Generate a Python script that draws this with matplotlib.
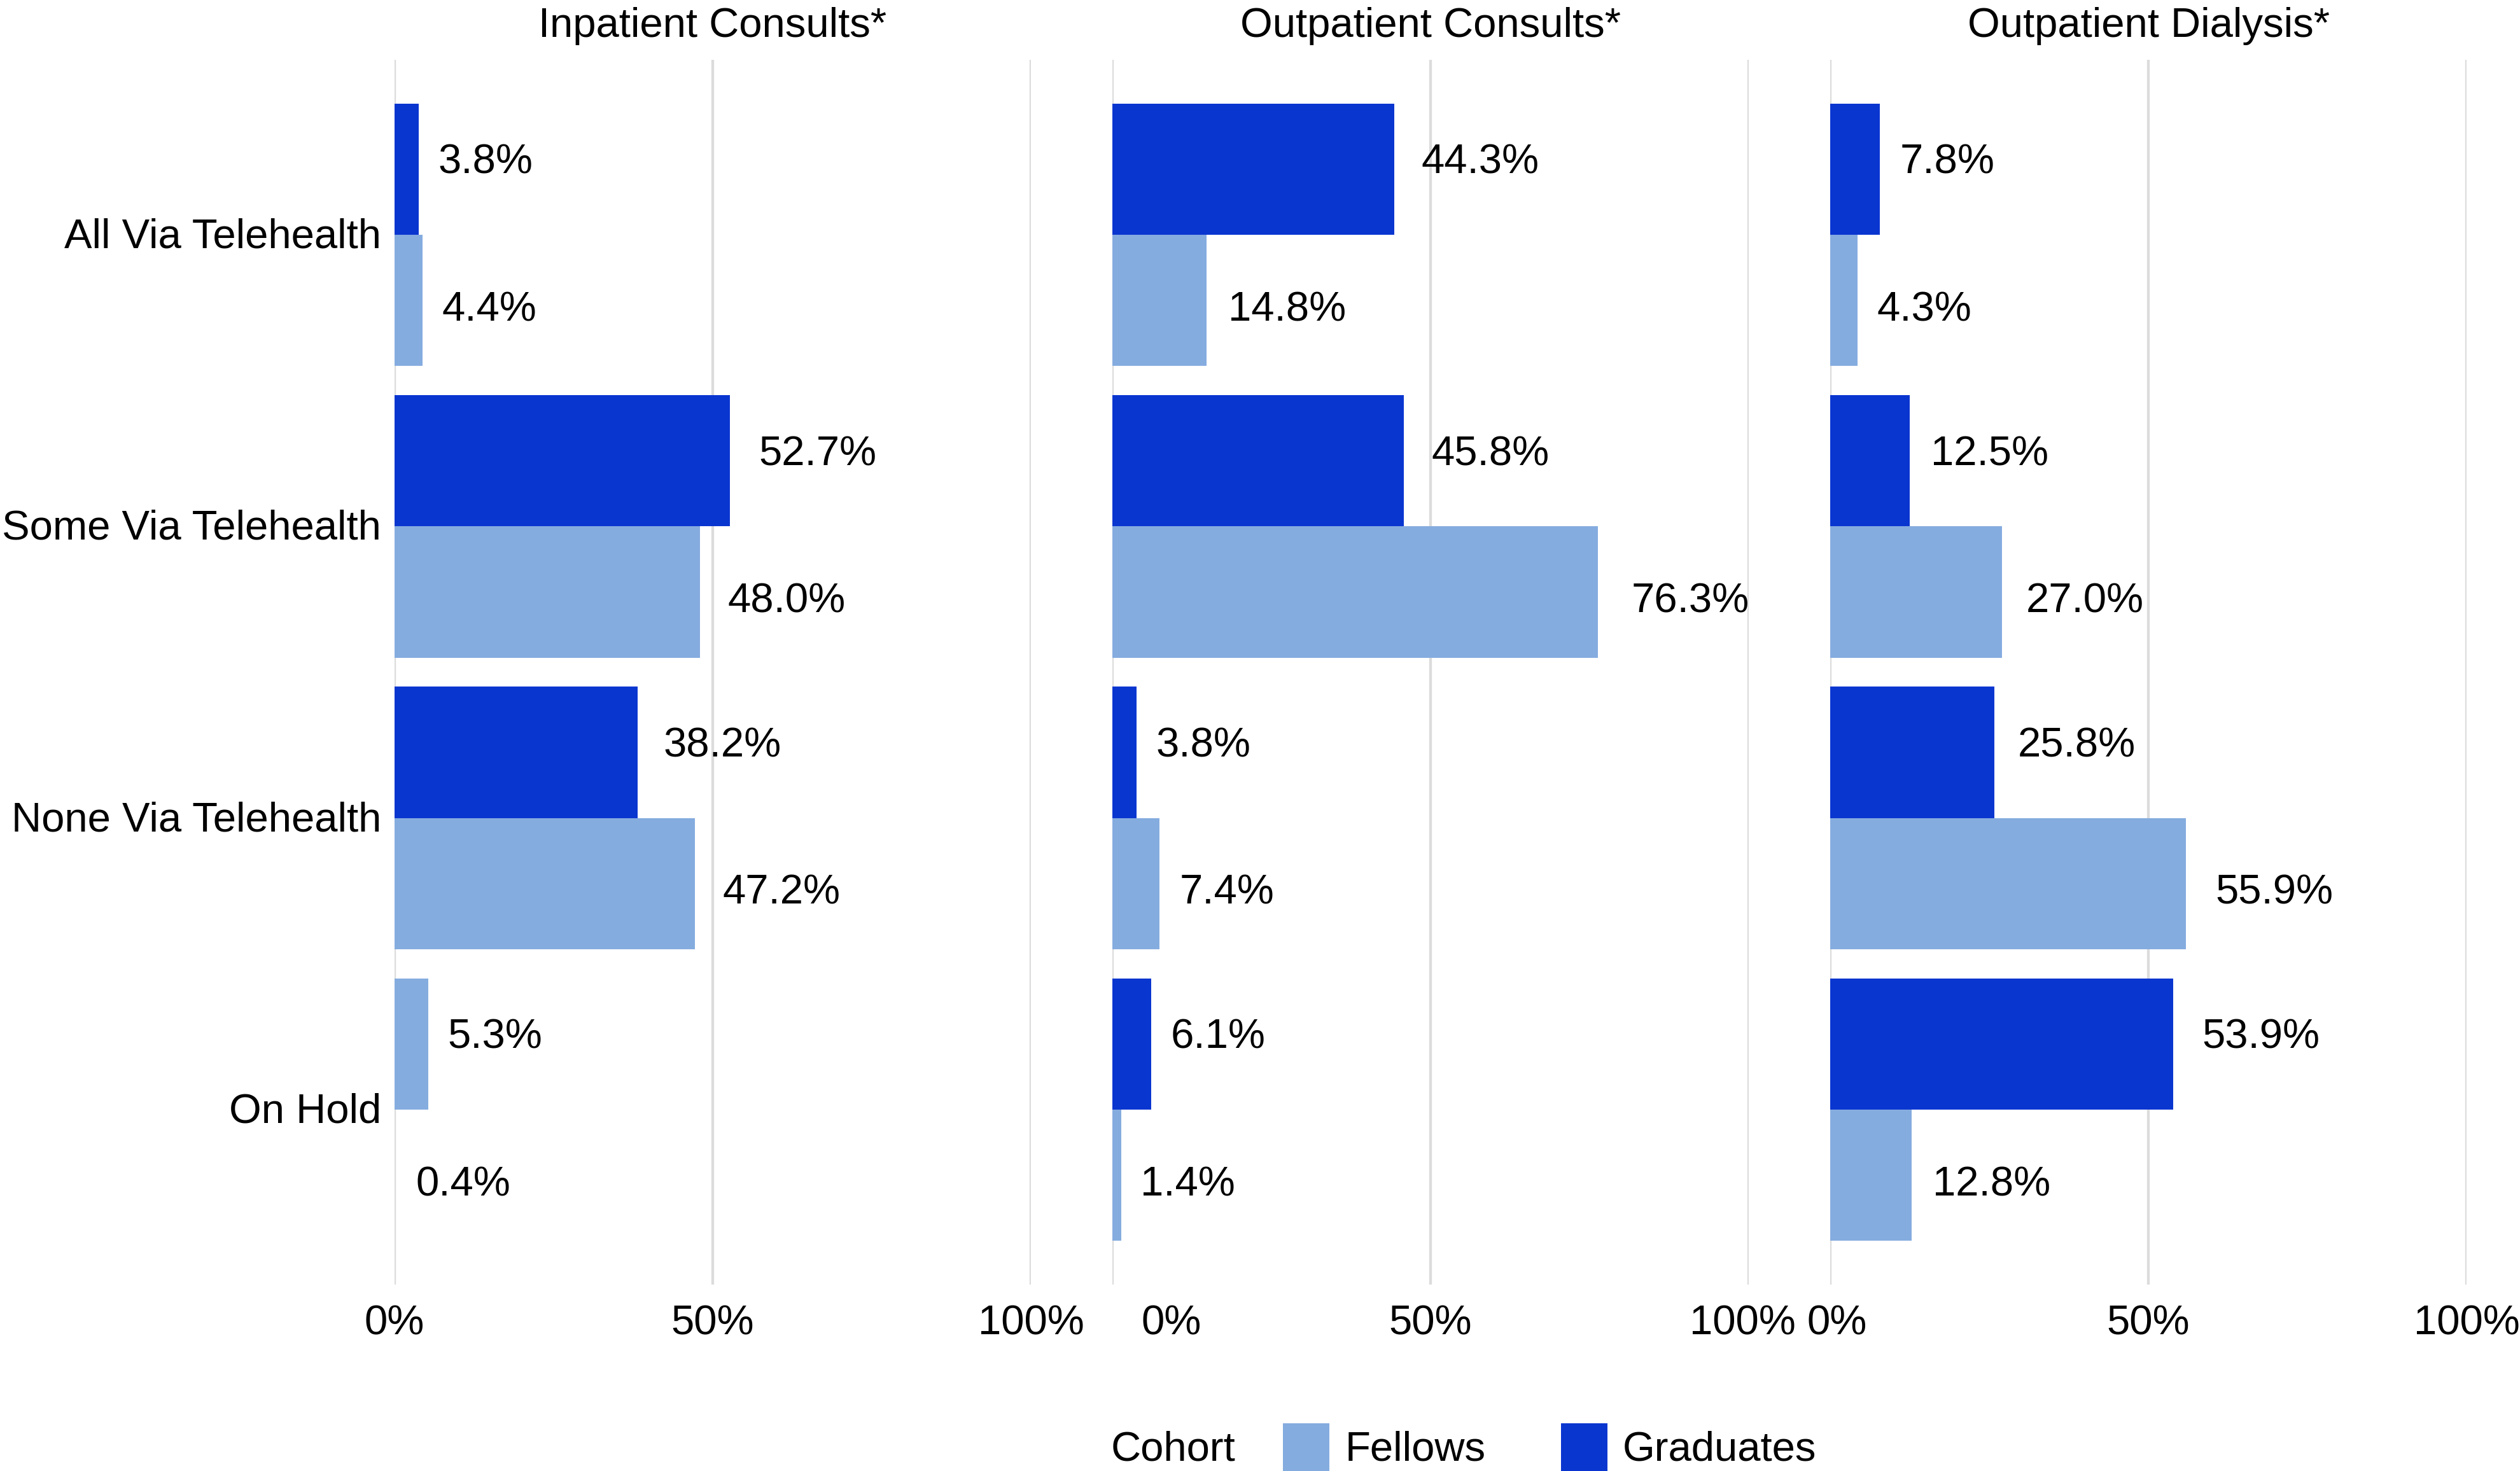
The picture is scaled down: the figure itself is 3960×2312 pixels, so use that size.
import matplotlib
matplotlib.use("Agg")
import matplotlib.pyplot as plt
import matplotlib.transforms as mtransforms
from matplotlib.patches import Rectangle

# ---------------- data ----------------
categories = ["All Via Telehealth", "Some Via Telehealth", "None Via Telehealth", "On Hold"]
panel_titles = ["Inpatient Consults*", "Outpatient Consults*", "Outpatient Dialysis*"]

# upper bar of each pair (Graduates), lower bar (Fellows)
inpatient_graduates = [3.8, 52.7, 38.2, 5.3]
inpatient_fellows = [4.4, 48.0, 47.2, 0.0]
outpatient_graduates = [44.3, 45.8, 3.8, 6.1]
outpatient_fellows = [14.8, 76.3, 7.4, 1.4]
dialysis_graduates = [7.8, 12.5, 25.8, 53.9]
dialysis_fellows = [4.3, 27.0, 55.9, 12.8]

inpatient_top_labels = ["3.8%", "52.7%", "38.2%", "5.3%"]
inpatient_bottom_labels = ["4.4%", "48.0%", "47.2%", "0.4%"]
outpatient_top_labels = ["44.3%", "45.8%", "3.8%", "6.1%"]
outpatient_bottom_labels = ["14.8%", "76.3%", "7.4%", "1.4%"]
dialysis_top_labels = ["7.8%", "12.5%", "25.8%", "53.9%"]
dialysis_bottom_labels = ["4.3%", "27.0%", "55.9%", "12.8%"]

# cohort shown by the upper bar in each row (the inpatient "On Hold" upper bar is drawn in the Fellows colour)
inpatient_top_cohort = ["Graduates", "Graduates", "Graduates", "Fellows"]
outpatient_top_cohort = ["Graduates"] * 4
dialysis_top_cohort = ["Graduates"] * 4

x_ticks = [0, 50, 100]
x_tick_labels = ["0%", "50%", "100%"]
legend_title = "Cohort"
legend_labels = ["Fellows", "Graduates"]

# ---------------- style ----------------
plt.rcParams['font.family'] = ['Liberation Sans', 'DejaVu Sans']
FS = 23.5
COLORS = {"Fellows": "#85ACDF", "Graduates": "#0A36D0"}
GRID = "#DCDCDC"

W, H, DPI = 3960, 2312, 200
fig = plt.figure(figsize=(W / DPI, H / DPI), dpi=DPI)
fig.patch.set_facecolor("white")

ax_top_px, ax_bot_px = 94, 2019
panel_left_px = [620, 1748, 2876]
panel_w_px = 1000

panels = [
    (inpatient_graduates, inpatient_fellows, inpatient_top_labels, inpatient_bottom_labels, inpatient_top_cohort),
    (outpatient_graduates, outpatient_fellows, outpatient_top_labels, outpatient_bottom_labels, outpatient_top_cohort),
    (dialysis_graduates, dialysis_fellows, dialysis_top_labels, dialysis_bottom_labels, dialysis_top_cohort),
]

# tick-label shifts (px) to avoid overlap, as in reference
tick_shift_px = [[0, 0, 0], [93, 0, -10], [11, 0, 0]]

bar_h = 0.45
px_pt = 72.0 / DPI


def label_x(text):
    v = float(text.rstrip('%'))
    return v * 1.0307 + 2.92


for p, (top_vals, bot_vals, top_lbls, bot_lbls, top_coh) in enumerate(panels):
    ax = fig.add_axes([panel_left_px[p] / W, 1 - ax_bot_px / H,
                       panel_w_px / W, (ax_bot_px - ax_top_px) / H])
    ax.set_xlim(0, 100)
    ax.set_ylim(3.6, -0.6)
    for s in ax.spines.values():
        s.set_visible(False)
    ax.set_axisbelow(True)
    ax.xaxis.grid(True, color=GRID, linewidth=1.55)
    ax.yaxis.grid(False)
    ax.set_xticks(x_ticks)
    ax.set_xticklabels(x_tick_labels, fontsize=FS)
    ax.tick_params(axis='x', length=0, pad=11.5)
    ax.tick_params(axis='y', length=0, pad=7.5)
    ypos = list(range(len(categories)))
    if p == 0:
        ax.set_yticks(ypos)
        ax.set_yticklabels(categories, fontsize=FS, va='center_baseline')
        for lab in ax.get_yticklabels():
            lab.set_transform(lab.get_transform() +
                              mtransforms.ScaledTranslation(0, 3 / DPI, fig.dpi_scale_trans))
    else:
        ax.set_yticks([])

    for lab, dx in zip(ax.get_xticklabels(), tick_shift_px[p]):
        if dx:
            lab.set_transform(lab.get_transform() +
                              mtransforms.ScaledTranslation(dx / DPI, 0, fig.dpi_scale_trans))

    top_y = [y - bar_h / 2 for y in ypos]
    bot_y = [y + bar_h / 2 for y in ypos]
    ax.barh(top_y, top_vals, height=bar_h, color=[COLORS[c] for c in top_coh], linewidth=0, zorder=2)
    ax.barh(bot_y, bot_vals, height=bar_h, color=COLORS["Fellows"], linewidth=0, zorder=2)

    for yy, t in zip(top_y, top_lbls):
        ax.annotate(t, xy=(label_x(t), yy), xytext=(0, -7 * px_pt),
                    textcoords='offset points', ha='left', va='baseline',
                    fontsize=FS, color='black', zorder=3)
    for yy, t in zip(bot_y, bot_lbls):
        ax.annotate(t, xy=(label_x(t), yy), xytext=(0, -32 * px_pt),
                    textcoords='offset points', ha='left', va='baseline',
                    fontsize=FS, color='black', zorder=3)

    ax.set_title(panel_titles[p], fontsize=FS, pad=36 * px_pt)

# ---------------- legend ----------------
base_y = 1 - 2295 / H
fig.text(1746 / W, base_y, legend_title, fontsize=FS, ha='left', va='baseline')
patch_lefts = [2016, 2453]
text_lefts = [2114, 2550]
for lbl, pl, tl in zip(legend_labels, patch_lefts, text_lefts):
    fig.add_artist(Rectangle((pl / W, 1 - 2320 / H), 73 / W, 83 / H,
                             transform=fig.transFigure, facecolor=COLORS[lbl], linewidth=0))
    fig.text(tl / W, base_y, lbl, fontsize=FS, ha='left', va='baseline')

fig.savefig("out.png", dpi=DPI, facecolor="white")
